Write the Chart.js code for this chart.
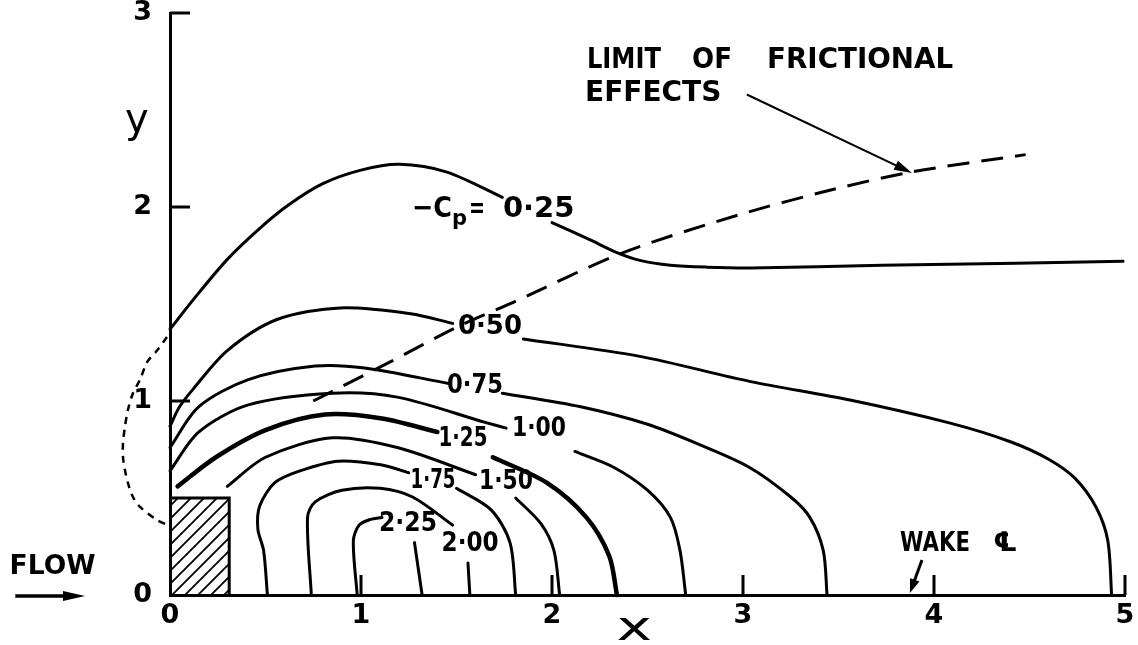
<!DOCTYPE html>
<html>
<head>
<meta charset="utf-8">
<title>-Cp contours round a surface block</title>
<script src="https://cdn.jsdelivr.net/npm/chart.js@4.4.1/dist/chart.umd.min.js"></script>
<style>
  html, body { margin: 0; padding: 0; background: #fff; }
  #wrap { width: 1138px; height: 645px; }
</style>
</head>
<body>
<div id="wrap"><canvas id="cpChart" width="1138" height="645"></canvas></div>
<script>
// axis ticks (x and y in block heights)
const xTicks = [0, 1, 2, 3, 4, 5];
const yTicks = [0, 1, 2, 3];

// -Cp contours, [x, y]; null leaves the gap where the value is written
const cp025 = [[0, 1.37], [0.12, 1.52], [0.30, 1.73], [0.47, 1.89], [0.62, 2.01], [0.80, 2.12], [1.00, 2.19], [1.20, 2.22], [1.45, 2.18], [1.74, 2.05],
  null, [2.0, 1.92], [2.20, 1.83], [2.34, 1.765], [2.46, 1.725], [2.62, 1.70], [2.81, 1.69], [3.04, 1.686], [3.73, 1.70], [4.43, 1.71], [4.99, 1.72]];
const cp050 = [[0, 0.87], [0.05, 0.97], [0.12, 1.06], [0.30, 1.26], [0.56, 1.42], [0.89, 1.48], [1.26, 1.45], [1.48, 1.40],
  null, [1.85, 1.32], [2.46, 1.23], [3.04, 1.10], [3.56, 1.005], [4.08, 0.887], [4.40, 0.79], [4.60, 0.70], [4.74, 0.60],
  [4.85, 0.45], [4.91, 0.28], [4.93, 0]];
const cp075 = [[0, 0.76], [0.15, 0.97], [0.41, 1.11], [0.76, 1.18], [1.02, 1.17], [1.46, 1.09],
  null, [1.74, 1.04], [2.15, 0.97], [2.50, 0.88], [2.76, 0.78], [3.03, 0.66], [3.25, 0.505], [3.35, 0.40], [3.42, 0.23], [3.44, 0]];
const cp100 = [[0, 0.64], [0.15, 0.84], [0.41, 0.98], [0.85, 1.04], [1.19, 1.02], [1.65, 0.89], [1.76, 0.86],
  null, [2.12, 0.74], [2.32, 0.66], [2.50, 0.54], [2.62, 0.40], [2.67, 0.23], [2.70, 0]];
const cp125 = [[0.04, 0.56], [0.24, 0.71], [0.50, 0.85], [0.81, 0.93], [1.11, 0.91], [1.40, 0.84],
  null, [1.69, 0.71], [1.97, 0.58], [2.18, 0.40], [2.30, 0.20], [2.34, 0]];
const cp150 = [[0.30, 0.56], [0.50, 0.71], [0.85, 0.81], [1.19, 0.76], [1.60, 0.62],
  null, [1.81, 0.50], [1.94, 0.37], [2.01, 0.23], [2.04, 0]];
const cp175 = [[0.51, 0], [0.49, 0.23], [0.46, 0.34], [0.47, 0.46], [0.55, 0.58], [0.68, 0.64], [0.88, 0.69], [1.11, 0.67], [1.25, 0.63],
  null, [1.50, 0.55], [1.68, 0.44], [1.78, 0.27], [1.81, 0]];
const cp200 = [[0.74, 0], [0.72, 0.40], [0.76, 0.48], [0.90, 0.54], [1.10, 0.55], [1.27, 0.505], [1.48, 0.36],
  null, [1.56, 0.165], [1.57, 0]];
const cp225 = [[0.98, 0], [0.96, 0.28], [0.99, 0.36], [1.05, 0.39], [1.11, 0.40],
  null, [1.28, 0.27], [1.32, 0]];

// limit of frictional effects, and its upstream part round the front face
const frictionLimit = [[0.75, 1.0], [1.15, 1.20], [1.50, 1.38], [1.80, 1.51], [2.36, 1.76], [2.98, 1.96], [3.47, 2.09], [3.88, 2.18], [4.48, 2.27]];
const upstreamLimit = [[-0.016, 1.33], [-0.068, 1.26], [-0.12, 1.20], [-0.157, 1.11], [-0.194, 1.04], [-0.22, 0.955], [-0.236, 0.866],
  [-0.246, 0.784], [-0.246, 0.71], [-0.236, 0.644], [-0.22, 0.577], [-0.194, 0.505], [-0.157, 0.454], [-0.068, 0.387], [-0.01, 0.36]];

// the block itself
const block = [[0, 0], [0, 0.5], [0.31, 0.5], [0.31, 0]];

const FONT = "'DejaVu Sans', sans-serif";

const toPoints = arr => arr.map(p => p ? { x: p[0], y: p[1] } : { x: null, y: null });

function contour(data, width) {
  return {
    data: toPoints(data), showLine: true, borderColor: '#000', borderWidth: width || 3,
    borderCapStyle: 'round', pointRadius: 0, tension: 0.3, fill: false, spanGaps: false, clip: false
  };
}

function dashed(data, dash, width) {
  return {
    data: toPoints(data), showLine: true, borderColor: '#000', borderWidth: width,
    borderDash: dash, pointRadius: 0, tension: 0.3, fill: false, clip: false
  };
}

// diagonal hatching for the block
function hatchPattern() {
  const c = document.createElement('canvas');
  c.width = c.height = 13;
  const g = c.getContext('2d');
  g.strokeStyle = '#000';
  g.lineWidth = 1.8;
  g.beginPath();
  g.moveTo(-2, 15); g.lineTo(15, -2);
  g.moveTo(-2, 2); g.lineTo(2, -2);
  g.moveTo(11, 15); g.lineTo(15, 11);
  g.stroke();
  return g.createPattern(c, 'repeat');
}

// where the words go, in axis units: [text, x, y, size, maxWidth, align]
const notes = [
  ['0·50', 1.675, 1.38, 26, 64, 'center'],
  ['0·75', 1.597, 1.077, 26, 56, 'center'],
  ['1·00', 1.932, 0.856, 26, 54, 'center'],
  ['1·25', 1.534, 0.804, 26, 49, 'center'],
  ['1·75', 1.377, 0.588, 26, 45, 'center'],
  ['1·50', 1.759, 0.582, 26, 54, 'center'],
  ['2·25', 1.246, 0.366, 26, 58, 'center'],
  ['2·00', 1.571, 0.263, 26, 57, 'center'],
  ['LIMIT', 2.183, 2.753, 28, 74, 'left'],
  ['OF', 2.733, 2.753, 28, 40, 'left'],
  ['FRICTIONAL', 3.126, 2.753, 28, 186, 'left'],
  ['EFFECTS', 2.173, 2.582, 28, 148, 'left'],
  ['WAKE', 3.822, 0.263, 27, 70, 'left'],
  ['℄', 4.309, 0.263, 27, 26, 'left'],
  ['FLOW', -0.84, 0.145, 27, 86, 'left']
];

function arrow(ctx, x1, y1, x2, y2, lw, head, half) {
  const a = Math.atan2(y2 - y1, x2 - x1);
  const c = Math.cos(a), s = Math.sin(a);
  ctx.lineWidth = lw;
  ctx.beginPath();
  ctx.moveTo(x1, y1);
  ctx.lineTo(x2 - c * head * 0.7, y2 - s * head * 0.7);
  ctx.stroke();
  ctx.beginPath();
  ctx.moveTo(x2, y2);
  ctx.lineTo(x2 - head * c + half * s, y2 - head * s - half * c);
  ctx.lineTo(x2 - head * c - half * s, y2 - head * s + half * c);
  ctx.closePath();
  ctx.fill();
}

const decorations = {
  id: 'decorations',
  afterDatasetsDraw(chart) {
    const { ctx, scales: { x, y } } = chart;
    const px = v => x.getPixelForValue(v);
    const py = v => y.getPixelForValue(v);
    ctx.save();
    ctx.strokeStyle = '#000';
    ctx.fillStyle = '#000';

    // ticks point into the plot
    ctx.lineWidth = 3;
    ctx.beginPath();
    y.ticks.forEach(t => {
      if (t.value === 0) return;
      ctx.moveTo(px(0), py(t.value));
      ctx.lineTo(px(0) + 20, py(t.value));
    });
    x.ticks.forEach(t => {
      if (t.value === 0) return;
      ctx.moveTo(px(t.value), py(0));
      ctx.lineTo(px(t.value), py(0) - 20);
    });
    ctx.stroke();

    // words
    ctx.textBaseline = 'middle';
    notes.forEach(([text, nx, ny, size, w, align]) => {
      ctx.font = `bold ${size}px ${FONT}`;
      ctx.textAlign = align;
      ctx.fillText(text, px(nx), py(ny), w);
    });

    // -Cp = 0.25 with its subscript
    ctx.textAlign = 'left';
    let cx = px(1.267);
    const cy = py(1.985);
    ctx.font = `bold 29px ${FONT}`;
    ctx.fillText('−C', cx, cy, 40);
    cx += Math.min(ctx.measureText('−C').width, 40);
    ctx.font = `bold 21px ${FONT}`;
    ctx.fillText('p', cx, cy + 10);
    cx += ctx.measureText('p').width + 2;
    ctx.font = `bold 29px ${FONT}`;
    ctx.fillText('=', cx, cy, 16);
    ctx.fillText('0·25', px(1.743), cy, 72);

    // axis titles
    ctx.textAlign = 'center';
    ctx.font = `40px ${FONT}`;
    ctx.fillText('y', px(-0.173), py(2.44));
    ctx.save();
    ctx.translate(px(2.43), py(-0.18));
    ctx.scale(1.5, 1);
    ctx.fillText('x', 0, 0);
    ctx.restore();

    // pointers
    arrow(ctx, px(3.02), py(2.58), px(3.885), py(2.175), 2, 18, 5);
    arrow(ctx, px(3.937), py(0.18), px(3.874), py(0.01), 3, 14, 5);
    arrow(ctx, px(-0.81), py(-0.005), px(-0.445), py(-0.005), 3.5, 22, 5);

    ctx.restore();
  }
};

const axisStyle = {
  grid: { display: false, drawTicks: false },
  border: { display: true, color: '#000', width: 3 },
};

new Chart(document.getElementById('cpChart'), {
  type: 'scatter',
  data: {
    datasets: [
      contour(cp025), contour(cp050), contour(cp075), contour(cp100), contour(cp125, 4.5),
      contour(cp150), contour(cp175), contour(cp200), contour(cp225),
      dashed(frictionLimit, [22, 12], 3),
      dashed(upstreamLimit, [7, 6], 2.5),
      {
        data: toPoints(block), showLine: true, borderColor: '#000', borderWidth: 3,
        pointRadius: 0, tension: 0, fill: 'origin', backgroundColor: hatchPattern()
      }
    ]
  },
  options: {
    responsive: false,
    animation: false,
    events: [],
    layout: { padding: { left: 110, right: 13, top: 13, bottom: 0 } },
    plugins: { legend: { display: false }, tooltip: { enabled: false } },
    scales: {
      x: {
        ...axisStyle,
        type: 'linear', position: 'bottom', min: 0, max: 5,
        afterBuildTicks: s => { s.ticks = xTicks.map(v => ({ value: v })); },
        afterFit: s => { s.height = 50; s.paddingLeft = 0; s.paddingRight = 0; },
        ticks: { color: '#000', font: { family: FONT, size: 27, weight: 'bold' }, padding: 5, maxRotation: 0 }
      },
      y: {
        ...axisStyle,
        type: 'linear', position: 'left', min: 0, max: 3,
        afterBuildTicks: s => { s.ticks = yTicks.map(v => ({ value: v })); },
        afterFit: s => { s.width = 60; s.paddingTop = 0; s.paddingBottom = 0; },
        ticks: { color: '#000', font: { family: FONT, size: 27, weight: 'bold' }, padding: 18, crossAlign: 'center' }
      }
    }
  },
  plugins: [decorations]
});
</script>
</body>
</html>
